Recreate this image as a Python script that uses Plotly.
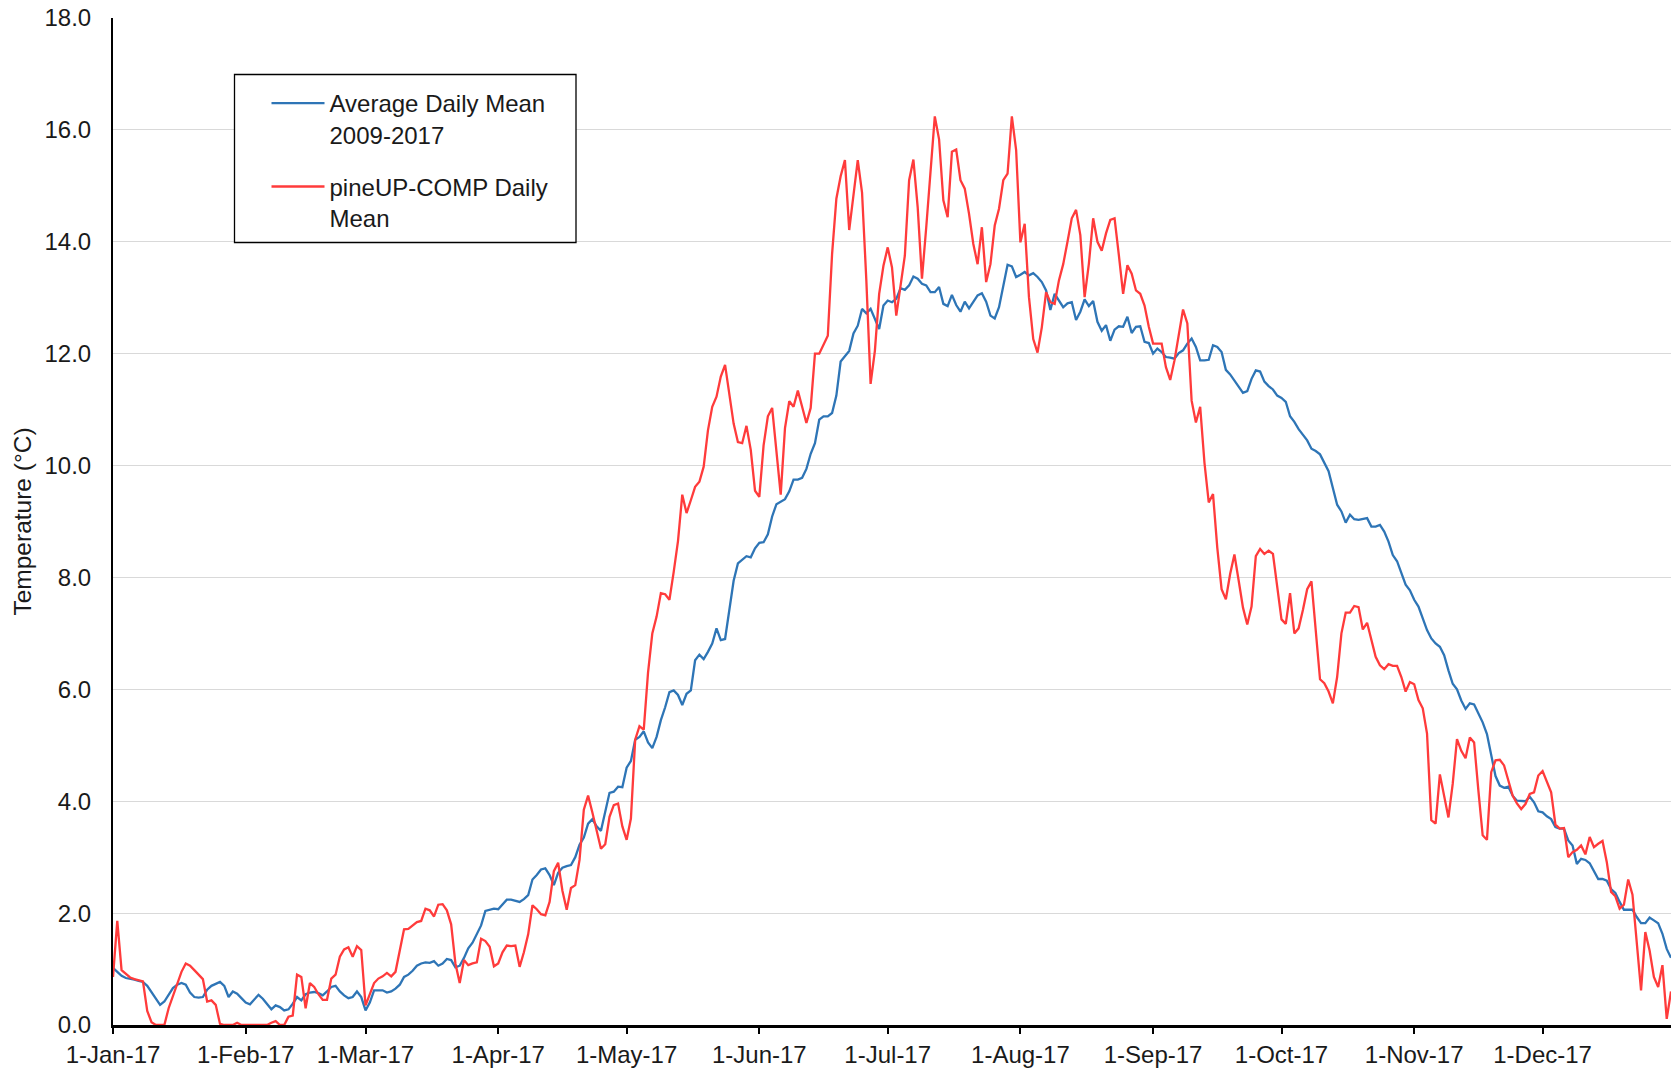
import pandas as pd
import plotly.graph_objects as go

START_DATE = "2017-01-01"

AVG_2009_2017 = [
    1.02, 0.95, 0.88, 0.84, 0.83, 0.81, 0.79, 0.77, 0.70, 0.58,
    0.48, 0.36, 0.42, 0.55, 0.66, 0.72, 0.75, 0.72, 0.58, 0.50,
    0.49, 0.50, 0.63, 0.70, 0.74, 0.77, 0.70, 0.50, 0.60, 0.56,
    0.48, 0.40, 0.37, 0.45, 0.54, 0.47, 0.38, 0.28, 0.35, 0.32,
    0.26, 0.28, 0.38, 0.50, 0.44, 0.55, 0.58, 0.59, 0.57, 0.53,
    0.60, 0.68, 0.70, 0.60, 0.53, 0.48, 0.50, 0.60, 0.50, 0.26,
    0.40, 0.62, 0.62, 0.62, 0.58, 0.60, 0.65, 0.72, 0.86, 0.90,
    0.97, 1.06, 1.10, 1.12, 1.11, 1.14, 1.06, 1.10, 1.18, 1.16,
    1.03, 1.06, 1.20, 1.37, 1.47, 1.62, 1.78, 2.04, 2.06, 2.08,
    2.07, 2.15, 2.24, 2.24, 2.22, 2.20, 2.25, 2.32, 2.60, 2.68,
    2.78, 2.80, 2.68, 2.50, 2.72, 2.81, 2.84, 2.86, 3.00, 3.22,
    3.35, 3.60, 3.68, 3.55, 3.47, 3.80, 4.15, 4.17, 4.26, 4.25,
    4.60, 4.72, 5.10, 5.15, 5.25, 5.05, 4.95, 5.15, 5.45, 5.68,
    5.95, 5.98, 5.90, 5.72, 5.92, 5.98, 6.52, 6.62, 6.54, 6.67,
    6.82, 7.09, 6.88, 6.90, 7.40, 7.94, 8.25, 8.32, 8.38, 8.36,
    8.52, 8.62, 8.63, 8.77, 9.09, 9.31, 9.36, 9.40, 9.54, 9.75,
    9.75, 9.78, 9.94, 10.21, 10.40, 10.82, 10.88, 10.88, 10.94, 11.25,
    11.86, 11.95, 12.05, 12.36, 12.50, 12.80, 12.72, 12.80, 12.62, 12.44,
    12.86, 12.95, 12.92, 12.98, 13.17, 13.14, 13.22, 13.38, 13.34, 13.25,
    13.22, 13.10, 13.10, 13.19, 12.89, 12.85, 13.05, 12.87, 12.75, 12.93,
    12.81, 12.93, 13.04, 13.08, 12.93, 12.68, 12.63, 12.83, 13.20, 13.59,
    13.56, 13.37, 13.41, 13.46, 13.40, 13.44, 13.37, 13.28, 13.13, 12.78,
    13.07, 12.95, 12.83, 12.90, 12.92, 12.60, 12.75, 12.97, 12.85, 12.94,
    12.57, 12.41, 12.51, 12.23, 12.43, 12.49, 12.48, 12.66, 12.37, 12.48,
    12.49, 12.21, 12.19, 12.00, 12.09, 12.03, 11.94, 11.93, 11.91, 12.01,
    12.06, 12.18, 12.27, 12.12, 11.88, 11.88, 11.89, 12.15, 12.12, 12.03,
    11.71, 11.63, 11.52, 11.39, 11.30, 11.33, 11.55, 11.70, 11.68, 11.50,
    11.42, 11.36, 11.25, 11.21, 11.14, 10.88, 10.78, 10.65, 10.55, 10.45,
    10.30, 10.26, 10.20, 10.05, 9.90, 9.60, 9.30, 9.18, 8.98, 9.12,
    9.04, 9.03, 9.04, 9.06, 8.91, 8.91, 8.94, 8.82, 8.64, 8.40,
    8.29, 8.08, 7.87, 7.77, 7.60, 7.48, 7.27, 7.06, 6.91, 6.82,
    6.76, 6.61, 6.34, 6.10, 6.00, 5.80, 5.65, 5.75, 5.73, 5.56,
    5.41, 5.20, 4.80, 4.45, 4.28, 4.24, 4.26, 4.10, 4.01, 4.00,
    4.00, 4.08, 3.98, 3.82, 3.80, 3.73, 3.68, 3.54, 3.51, 3.51,
    3.30, 3.21, 2.88, 2.97, 2.95, 2.89, 2.76, 2.61, 2.61, 2.58,
    2.43, 2.36, 2.20, 2.06, 2.06, 2.06, 1.93, 1.82, 1.82, 1.92,
    1.87, 1.82, 1.63, 1.36, 1.20,
]

PINEUP_COMP = [
    0.86, 1.86, 0.98, 0.92, 0.85, 0.82, 0.80, 0.78, 0.25, 0.05,
    0.00, 0.00, 0.00, 0.30, 0.52, 0.75, 0.95, 1.10, 1.06, 0.98,
    0.90, 0.82, 0.42, 0.44, 0.36, 0.02, 0.00, 0.00, 0.00, 0.04,
    0.00, 0.00, 0.00, 0.00, 0.00, 0.00, 0.00, 0.04, 0.07, 0.00,
    0.00, 0.15, 0.17, 0.90, 0.86, 0.30, 0.75, 0.68, 0.55, 0.45,
    0.45, 0.83, 0.90, 1.22, 1.35, 1.39, 1.22, 1.41, 1.34, 0.35,
    0.55, 0.75, 0.83, 0.87, 0.93, 0.87, 0.95, 1.30, 1.71, 1.72,
    1.78, 1.84, 1.86, 2.08, 2.05, 1.94, 2.15, 2.16, 2.05, 1.80,
    1.10, 0.75, 1.16, 1.07, 1.10, 1.12, 1.54, 1.50, 1.40, 1.05,
    1.10, 1.30, 1.42, 1.41, 1.42, 1.04, 1.30, 1.62, 2.14, 2.07,
    1.98, 1.96, 2.20, 2.75, 2.90, 2.40, 2.06, 2.45, 2.50, 2.95,
    3.85, 4.10, 3.80, 3.50, 3.15, 3.23, 3.72, 3.93, 3.96, 3.55,
    3.31, 3.69, 5.10, 5.34, 5.28, 6.30, 7.00, 7.30, 7.72, 7.70,
    7.60, 8.10, 8.65, 9.48, 9.15, 9.38, 9.62, 9.71, 9.98, 10.63,
    11.05, 11.23, 11.59, 11.80, 11.25, 10.75, 10.42, 10.40, 10.71, 10.28,
    9.55, 9.44, 10.36, 10.88, 11.03, 10.25, 9.48, 10.67, 11.15, 11.05,
    11.34, 11.05, 10.76, 11.03, 12.00, 12.00, 12.17, 12.32, 13.78, 14.77,
    15.17, 15.46, 14.21, 14.85, 15.46, 14.88, 13.32, 11.46, 12.05, 13.07,
    13.57, 13.90, 13.54, 12.68, 13.25, 13.75, 15.10, 15.47, 14.62, 13.34,
    14.26, 15.28, 16.24, 15.83, 14.74, 14.44, 15.61, 15.65, 15.10, 14.95,
    14.50, 13.96, 13.60, 14.26, 13.28, 13.60, 14.29, 14.59, 15.10, 15.22,
    16.24, 15.64, 13.99, 14.32, 13.01, 12.26, 12.02, 12.47, 13.10, 12.92,
    12.89, 13.31, 13.60, 14.00, 14.42, 14.57, 14.12, 13.01, 13.61, 14.42,
    14.00, 13.84, 14.15, 14.39, 14.42, 13.76, 13.07, 13.58, 13.43, 13.13,
    13.07, 12.86, 12.48, 12.18, 12.18, 12.18, 11.76, 11.53, 11.88, 12.36,
    12.79, 12.54, 11.16, 10.77, 11.05, 10.05, 9.34, 9.49, 8.53, 7.79,
    7.61, 8.06, 8.41, 7.94, 7.46, 7.16, 7.48, 8.38, 8.51, 8.42,
    8.48, 8.42, 7.84, 7.25, 7.17, 7.72, 7.00, 7.09, 7.42, 7.79,
    7.93, 7.00, 6.18, 6.11, 5.96, 5.75, 6.22, 7.00, 7.37, 7.37,
    7.49, 7.47, 7.07, 7.19, 6.88, 6.58, 6.43, 6.36, 6.45, 6.42,
    6.42, 6.22, 5.96, 6.13, 6.09, 5.81, 5.66, 5.21, 3.66, 3.60,
    4.48, 4.10, 3.71, 4.31, 5.11, 4.90, 4.77, 5.14, 5.05, 4.19,
    3.39, 3.31, 4.52, 4.73, 4.74, 4.64, 4.37, 4.10, 3.96, 3.86,
    3.95, 4.13, 4.16, 4.46, 4.54, 4.34, 4.16, 3.58, 3.51, 3.52,
    3.00, 3.09, 3.13, 3.21, 3.05, 3.36, 3.18, 3.24, 3.29, 2.91,
    2.38, 2.30, 2.08, 2.15, 2.60, 2.33, 1.51, 0.62, 1.66, 1.33,
    0.86, 0.68, 1.07, 0.11, 0.60,
]

SERIES_NAMES = ["Average Daily Mean<br>2009-2017", "pineUP-COMP Daily<br>Mean"]

TICK_DATES = ["2017-01-01", "2017-02-01", "2017-03-01", "2017-04-01", "2017-05-01",
              "2017-06-01", "2017-07-01", "2017-08-01", "2017-09-01", "2017-10-01",
              "2017-11-01", "2017-12-01"]
TICK_LABELS = ["1-Jan-17", "1-Feb-17", "1-Mar-17", "1-Apr-17", "1-May-17", "1-Jun-17",
               "1-Jul-17", "1-Aug-17", "1-Sep-17", "1-Oct-17", "1-Nov-17", "1-Dec-17"]
Y_TICKS = [0, 2, 4, 6, 8, 10, 12, 14, 16, 18]
Y_TICK_LABELS = ["0.0", "2.0", "4.0", "6.0", "8.0", "10.0", "12.0", "14.0", "16.0", "18.0"]

dates = pd.date_range(START_DATE, periods=len(AVG_2009_2017), freq="D")

W, H = 1673, 1069
ML, MR, MT, MB = 113, 2, 18, 44
PW, PH = W - ML - MR, H - MT - MB


def px_x(p):
    return (p - ML) / PW


def px_y(p):
    return 1 - (p - MT) / PH


FONT = "Liberation Sans, Arial, sans-serif"
TXT = "#1a1a1a"

fig = go.Figure()
fig.add_trace(go.Scatter(x=dates, y=AVG_2009_2017, mode="lines", name=SERIES_NAMES[0],
                         legendgroup="a", line=dict(color="#2E75B6", width=2.3)))
fig.add_trace(go.Scatter(x=dates, y=PINEUP_COMP, mode="lines", name=SERIES_NAMES[1],
                         legendgroup="b", line=dict(color="#FF3B3B", width=2.3)))

# legend frame
fig.add_shape(type="rect", xref="paper", yref="paper",
              x0=px_x(234.5), x1=px_x(576), y0=px_y(242.5), y1=px_y(74.5),
              line=dict(color="black", width=1.3), fillcolor="white", layer="above")

fig.update_layout(
    width=W, height=H,
    margin=dict(l=ML, r=MR, t=MT, b=MB, autoexpand=False),
    paper_bgcolor="white", plot_bgcolor="white",
    font=dict(family=FONT, size=24, color=TXT),
    showlegend=True,
    legend=dict(x=px_x(266.5), y=px_y(81), xanchor="left", yanchor="top",
                bgcolor="rgba(0,0,0,0)", borderwidth=0, itemwidth=53,
                tracegroupgap=18, valign="top", traceorder="grouped",
                font=dict(family=FONT, size=24, color=TXT)),
    xaxis=dict(type="date", range=["2017-01-01", "2017-12-31"],
               tickvals=TICK_DATES, ticktext=TICK_LABELS,
               showgrid=False, zeroline=False,
               showline=True, linecolor="black", linewidth=2.5,
               ticks="outside", ticklen=6, tickwidth=2, tickcolor="black",
               tickfont=dict(family=FONT, size=24, color=TXT)),
    yaxis=dict(range=[0, 18], tickvals=Y_TICKS, ticktext=Y_TICK_LABELS,
               showgrid=True, gridcolor="#d9d9d9", gridwidth=1.3,
               zeroline=False, showline=True, linecolor="black", linewidth=2,
               ticks="", ticklabelstandoff=15,
               tickfont=dict(family=FONT, size=24, color=TXT),
               title=dict(text="Temperature (°C)", standoff=6,
                          font=dict(family=FONT, size=24.5, color=TXT))),
)

# remove the browser's default page margin so the figure fills the window exactly
fig.write_html("out.html",
               config={"displayModeBar": False},
               post_script="document.body.style.margin='0';document.body.style.overflow='hidden';")
